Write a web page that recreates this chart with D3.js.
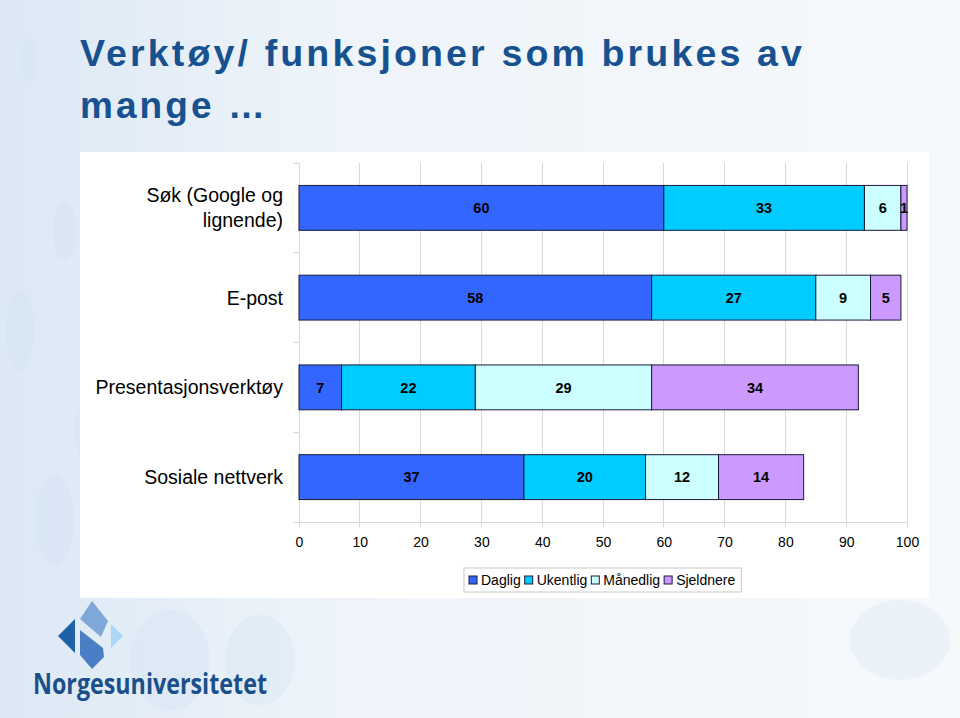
<!DOCTYPE html>
<html>
<head>
<meta charset="utf-8">
<script src="https://cdn.jsdelivr.net/npm/d3@7"></script>
<style>
  html, body { margin: 0; padding: 0; background: #fff; }
  svg { display: block; }
</style>
</head>
<body>
<svg id="chart" width="960" height="718"></svg>
<script>
// ---------------- data ----------------
const categories = ["Søk (Google og lignende)", "E-post", "Presentasjonsverktøy", "Sosiale nettverk"];
const categoryLines = [["Søk (Google og", "lignende)"], ["E-post"], ["Presentasjonsverktøy"], ["Sosiale nettverk"]];
const seriesNames = ["Daglig", "Ukentlig", "Månedlig", "Sjeldnere"];
const daglig    = [60, 58, 7, 37];
const ukentlig  = [33, 27, 22, 20];
const maanedlig = [6, 9, 29, 12];
const sjeldnere = [1, 5, 34, 14];
const seriesColors = ["#3366ff", "#00ccff", "#ccffff", "#cc99ff"];
const xTicks = [0, 10, 20, 30, 40, 50, 60, 70, 80, 90, 100];
const titleLines = ["Verktøy/ funksjoner som brukes av", "mange …"];
const logoText = "Norgesuniversitetet";

// ---------------- setup ----------------
const svg = d3.select("#chart");
const defs = svg.append("defs");

const bg = defs.append("linearGradient").attr("id", "bg").attr("x1", "0").attr("y1", "0").attr("x2", "1").attr("y2", "0");
bg.append("stop").attr("offset", "0").attr("stop-color", "#dce8f5");
bg.append("stop").attr("offset", "0.35").attr("stop-color", "#eef4fa");
bg.append("stop").attr("offset", "1").attr("stop-color", "#f6f9fc");
svg.append("rect").attr("width", 960).attr("height", 718).attr("fill", "url(#bg)");

// faint decorative ellipses
const blobs = [[28, 60, 8, 22], [65, 230, 12, 30], [20, 330, 14, 40], [90, 430, 16, 34], [55, 520, 20, 45], [170, 660, 40, 50], [260, 660, 35, 45], [900, 640, 50, 40]];
svg.append("g").selectAll("ellipse").data(blobs).join("ellipse")
  .attr("cx", d => d[0]).attr("cy", d => d[1]).attr("rx", d => d[2]).attr("ry", d => d[3])
  .attr("fill", "#c9dcf0").attr("opacity", 0.22);

// title
const title = svg.append("g").attr("fill", "#17518f")
  .attr("font-family", "'Liberation Sans', Arial, sans-serif")
  .attr("font-weight", "bold").attr("font-size", 36).attr("letter-spacing", 3);
title.append("text").attr("x", 80).attr("y", 66).attr("textLength", 725).attr("lengthAdjust", "spacingAndGlyphs").text(titleLines[0]);
title.append("text").attr("x", 80).attr("y", 118).attr("textLength", 188).attr("lengthAdjust", "spacingAndGlyphs").text(titleLines[1]);

// white chart panel
svg.append("rect").attr("x", 80).attr("y", 152).attr("width", 849).attr("height", 446).attr("fill", "#ffffff");

// scales
const x = d3.scaleLinear().domain([0, 100]).range([299, 907]);
const y = d3.scaleBand().domain(categories).range([163, 522]).paddingInner(0.5).paddingOuter(0.25);

// gridlines
const g = svg.append("g");
g.append("g").selectAll("line").data(xTicks).join("line")
  .attr("x1", d => x(d)).attr("x2", d => x(d))
  .attr("y1", 163).attr("y2", 527)
  .attr("stroke", "#d9d9d9").attr("stroke-width", 1).attr("shape-rendering", "crispEdges");
// bottom axis line
g.append("line").attr("x1", x(0) - 6).attr("x2", x(100)).attr("y1", 522).attr("y2", 522)
  .attr("stroke", "#d9d9d9").attr("shape-rendering", "crispEdges");
// category ticks
const step = y.step();
const bounds = d3.range(categories.length + 1).map(i => 163 + i * step);
g.append("g").selectAll("line").data(bounds).join("line")
  .attr("x1", x(0) - 6).attr("x2", x(0)).attr("y1", d => d).attr("y2", d => d)
  .attr("stroke", "#d9d9d9").attr("shape-rendering", "crispEdges");

// x tick labels via axis
const xAxis = d3.axisBottom(x).tickValues(xTicks).tickSize(0).tickPadding(0);
const ax = svg.append("g").attr("transform", "translate(0,537)").call(xAxis);
ax.select(".domain").remove();
ax.selectAll("text").attr("font-family", "'Liberation Sans', Arial, sans-serif").attr("font-size", 14).attr("fill", "#000").attr("dy", "0.71em");

// category labels
const catG = svg.append("g").attr("font-family", "'Liberation Sans', Arial, sans-serif").attr("font-size", 19.5).attr("fill", "#000").attr("text-anchor", "end");
categories.forEach((c, i) => {
  const lines = categoryLines[i];
  const cy = y(c) + y.bandwidth() / 2;
  const lh = 25;
  lines.forEach((ln, j) => {
    catG.append("text").attr("x", 283).attr("y", cy + (j - (lines.length - 1) / 2) * lh).attr("dy", "0.36em").text(ln);
  });
});

// stacked data
const rows = categories.map((c, i) => ({ cat: c, Daglig: daglig[i], Ukentlig: ukentlig[i], "Månedlig": maanedlig[i], Sjeldnere: sjeldnere[i] }));
const stack = d3.stack().keys(seriesNames)(rows);
const color = d3.scaleOrdinal().domain(seriesNames).range(seriesColors);

const barsG = svg.append("g");
stack.forEach(layer => {
  const lg = barsG.append("g");
  lg.selectAll("rect").data(layer).join("rect")
    .attr("x", d => x(d[0])).attr("width", d => x(d[1]) - x(d[0]))
    .attr("y", d => y(d.data.cat)).attr("height", y.bandwidth())
    .attr("fill", color(layer.key)).attr("stroke", "#1a1a3a").attr("stroke-width", 1);
  lg.selectAll("text").data(layer).join("text")
    .attr("x", d => (x(d[0]) + x(d[1])) / 2)
    .attr("y", d => y(d.data.cat) + y.bandwidth() / 2)
    .attr("dy", "0.36em").attr("text-anchor", "middle")
    .attr("font-family", "'Liberation Sans', Arial, sans-serif").attr("font-weight", "bold").attr("font-size", 14.5)
    .attr("fill", "#000")
    .text(d => d.data[layer.key]);
});

// legend
const legG = svg.append("g").attr("font-family", "'Liberation Sans', Arial, sans-serif").attr("font-size", 14);
const legBox = legG.append("rect").attr("x", 464).attr("y", 568).attr("width", 277).attr("height", 24)
  .attr("fill", "#fff").attr("stroke", "#c8c8c8");
let lx = 469;
seriesNames.forEach((s, i) => {
  legG.append("rect").attr("x", lx).attr("y", 576).attr("width", 8).attr("height", 8)
    .attr("fill", seriesColors[i]).attr("stroke", "#1a1a3a").attr("stroke-width", 1);
  const t = legG.append("text").attr("x", lx + 12).attr("y", 580).attr("dy", "0.36em").attr("fill", "#000").text(s);
  lx = lx + 12 + t.node().getComputedTextLength() + 4;
});
legBox.attr("width", lx - 464 + 2);

// logo
const logo = svg.append("g");
logo.append("path").attr("d", "M58 636 L75 619 L75 653 Z").attr("fill", "#1f5fa8");
logo.append("path").attr("d", "M92 601 L108 621 L101 637 L80 619 Z").attr("fill", "#7fa8d8");
logo.append("path").attr("d", "M80 630 L103 648 L104 657 L92 669 L80 655 Z").attr("fill", "#4a7fc6");
logo.append("path").attr("d", "M111 624 L123 636 L111 648 Z").attr("fill", "#acd6f3");
logo.append("text").attr("x", 33).attr("y", 694).attr("textLength", 234).attr("lengthAdjust", "spacingAndGlyphs")
  .attr("font-family", "'Open Sans', 'DejaVu Sans', sans-serif").attr("font-weight", "bold").attr("font-size", 28)
  .attr("fill", "#1a4f8c").text(logoText);
</script>
</body>
</html>
